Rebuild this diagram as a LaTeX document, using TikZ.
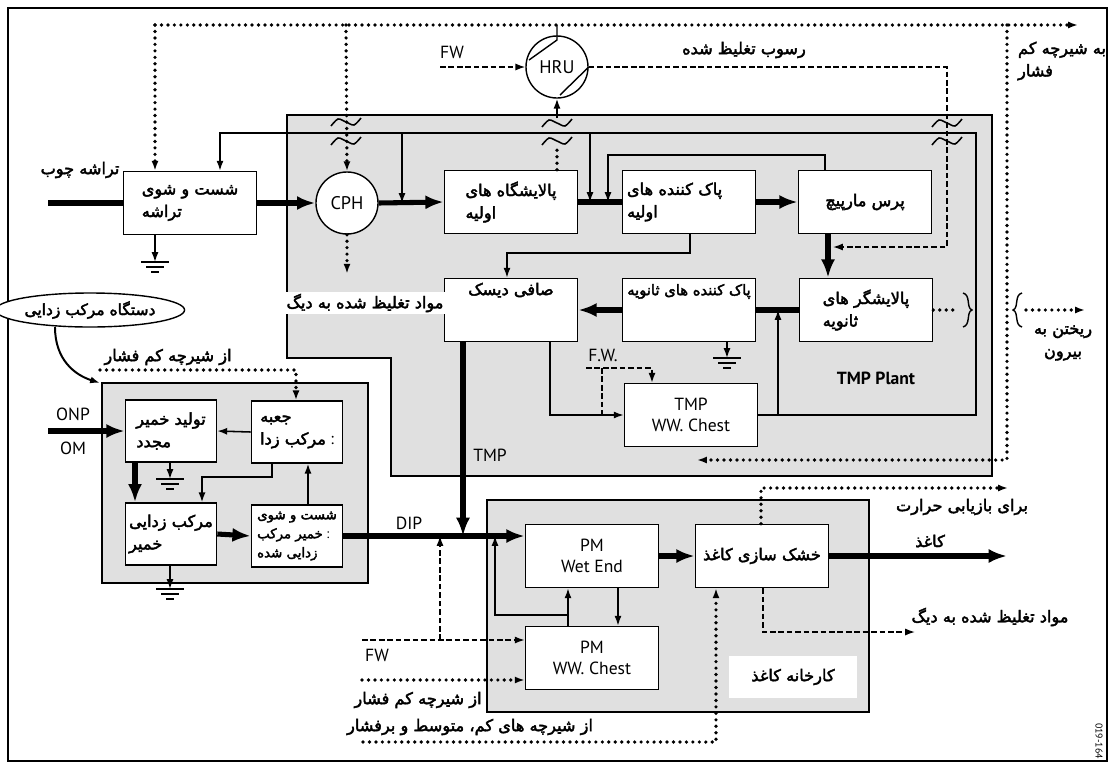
\documentclass[tikz,border=0pt]{standalone}
\usepackage{fontspec}
\setmainfont{PT Sans}
\newfontfamily\arabicfont[Script=Arabic,FakeBold=2.5]{DejaVu Sans}
\TeXXeTstate=1
\usetikzlibrary{arrows.meta, calc, positioning, shapes.geometric}
\newcommand{\fa}[1]{{\arabicfont\beginR #1\endR}}
\newcommand{\wavemark}[2]{\draw[line width=1.1pt] plot[smooth] coordinates {(#1-15,#2+4) (#1-8,#2-3) (#1,#2) (#1+8,#2+3) (#1+15,#2-4)};}
\newcommand{\groundmark}[2]{\draw[line width=1pt] (#1-14,#2) -- (#1+14,#2) (#1-9,#2+5) -- (#1+9,#2+5) (#1-4,#2+10) -- (#1+4,#2+10);}

\begin{document}
\begin{tikzpicture}[x=0.025cm, y=-0.025cm,
		box/.style={draw, fill=white, line width=1pt, minimum width=3.33cm, minimum height=1.58cm, inner sep=2pt, align=left, font=\fontsize{11.5}{16}\selectfont},
		sbox/.style={box, minimum width=2.28cm, minimum height=1.55cm},
		latin/.style={font=\fontsize{12.5}{14.5}\selectfont},
		lbl/.style={inner sep=1pt, font=\fontsize{11.5}{16}\selectfont},
		area/.style={draw, fill=black!12, line width=1pt},
		arr/.style={-{Latex[length=7pt,width=5pt]}},
		flow/.style={line width=1.1pt, arr},
		thickline/.style={line width=3.6pt},
		thickarrow/.style={line width=3.6pt, -{Latex[length=13pt,width=10pt]}},
		steam/.style={line width=2.6pt, dash pattern=on 0pt off 4.6pt, line cap=round},
		water/.style={line width=1pt, dash pattern=on 4pt off 2pt}]
	\useasboundingbox (0,0) rectangle (1114,765);
	\fill[white] (0,0) rectangle (1114,765);
	% frame and areas
	\draw[line width=1pt] (8,8) rectangle (1107,761);
	\draw[area] (287,115) -- (992,115) -- (992,476) -- (391,476) -- (391,358) -- (287,358) -- cycle;
	\draw[area] (102,383) rectangle (368,583);
	\draw[area] (487,500) rectangle (869,712);
	% TMP plant
	\node[box] (wash) at (190,203) {\fa{شست و شوی}\\\fa{تراشه}};
	\node[circle, draw, fill=white, line width=1pt, minimum size=1.55cm, font=\fontsize{13}{15}\selectfont] (cph) at (347,203) {CPH};
	\node[box] (ref1) at (511,202) {\fa{پالایشگاه های}\\\fa{اولیه}};
	\node[box, text width=3.1cm] (cl1) at (689,202) {\fa{پاک کننده های}\\\fa{اولیه}};
	\node[box, align=center] (press) at (865,202) {\fa{پرس مارپیچ}};
	\node[box, align=center] (disk) at (511,310) {\fa{صافی دیسک}\\[14pt]~};
	\node[box, align=center, font=\fontsize{10.5}{15}\selectfont] (cl2) at (689,310) {\fa{پاک کننده های ثانویه}\\[14pt]~};
	\node[box] (ref2) at (866,310) {\fa{پالایشگر های}\\\fa{ثانویه}};
	\node[box, align=center, latin] (tmpchest) at (691,415) {TMP\\WW. Chest};
	\node[circle, draw, fill=white, line width=1pt, minimum size=1.55cm, font=\fontsize{13}{15}\selectfont] (hru) at (557,67) {HRU};
	% deinking
	\node[ellipse, draw, fill=white, line width=1pt, minimum width=3.8cm, minimum height=0.85cm, inner sep=1pt, font=\fontsize{11}{15}\selectfont] (dink) at (90,310) {\fa{دستگاه مرکب زدایی}};
	\node[sbox] (repulp) at (171,431) {\fa{تولید خمیر}\\\fa{مجدد}};
	\node[sbox] (dbox) at (297,432) {\fa{جعبه}\\\fa{مرکب زدا} :};
	\node[sbox] (pulp) at (171,534) {\fa{مرکب زدایی}\\\fa{خمیر}};
	\node[sbox, font=\fontsize{9.5}{13.5}\selectfont] (wash2) at (297,536) {\fa{شست و شوی}\\\fa{خمیر مرکب} :\\\fa{زدایی شده}};
	% paper mill
	\node[box, align=center, latin] (wet) at (592,556) {PM\\Wet End};
	\node[box, align=center, latin] (pmchest) at (592,658) {PM\\WW. Chest};
	\node[box, align=center] (dryer) at (762,556) {\fa{خشک سازی کاغذ}};
	\node[lbl, fill=white, minimum width=3.18cm, minimum height=1.03cm] (mill) at (793,677) {\fa{کارخانه کاغذ}};
	% coordinates
	\coordinate (chipsin) at (48,203);
	\coordinate (sL) at (155,25);
	\coordinate (sC) at (346,25);
	\coordinate (sH) at (557,25);
	\coordinate (sR) at (1007,25);
	\coordinate (sOut) at (1078,25);
	\coordinate (tmpret) at (697,460);
	\coordinate (fwtop) at (440,67);
	\coordinate (condin) at (833,247);
	\coordinate (rc1) at (976,415);
	\coordinate (rc2) at (976,133);
	\coordinate (rc3) at (220,133);
	\coordinate (b1) at (402,133);
	\coordinate (b2) at (590,133);
	\coordinate (b3) at (778,415);
	\coordinate (pr) at (825,155);
	\coordinate (pl) at (608,155);
	\coordinate (cd) at (507,253);
	\coordinate (dc) at (550,415);
	\coordinate (fw2) at (586,368);
	\coordinate (fw2b) at (652,368);
	\coordinate (fw2c) at (602,368);
	\coordinate (tmpj) at (463,536);
	\coordinate (g1) at (155,262);
	\coordinate (g2) at (727,358);
	\coordinate (g3) at (170,479);
	\coordinate (g4) at (170,589);
	\coordinate (dl) at (100,370);
	\coordinate (dr) at (296,370);
	\coordinate (onp) at (48,431);
	\coordinate (dp) at (202,477);
	\coordinate (pmj) at (568,615);
	\coordinate (pmr) at (495,615);
	\coordinate (fw3) at (362,640);
	\coordinate (fw3b) at (440,640);
	\coordinate (lp) at (362,680);
	\coordinate (mp) at (363,742);
	\coordinate (mpc) at (716,742);
	\coordinate (hr) at (761,488);
	\coordinate (hrout) at (1008,488);
	\coordinate (paperout) at (1007,556);
	\coordinate (dc2) at (763,632);
	\coordinate (dcout) at (915,632);
	% steam lines
	\draw[steam, arr] (sL) -- (sOut);
	\draw[steam, arr] (sL) -- (sL |- wash.north);
	\draw[steam, arr] (sC) -- (cph.north);
	\draw[steam, arr] (sR) -- (sR |- tmpret) -- (tmpret);
	\draw[steam, arr] (cph.south) -- ++(0,39);
	\draw[steam] (hru |- ref1.north) -- (557,150);
	\draw[flow] (557,118) -- (hru.south);
	\draw[line width=1pt] (sH) -- (557,40) -- (529,60);
	\draw[line width=1pt] (hru.east) -- (560,95);
	\wavemark{346}{122} \wavemark{346}{141}
	\wavemark{557}{123} \wavemark{557}{141}
	\wavemark{947}{123} \wavemark{947}{141}
	% water lines
	\draw[water, arr] (fwtop) -- (hru.west);
	\draw[water, arr] (hru.east) -- (947,67) -- (947,247) -- (condin);
	\draw[water, arr] (fw2) -- (fw2b) -- (fw2b |- tmpchest.north);
	\draw[water] (fw2c) -- (fw2c |- dc);
	% pulp lines
	\draw[thickline] (chipsin) -- (wash.west);
	\draw[thickarrow] (wash.east) -- (cph.west);
	\draw[thickarrow] (cph.east) -- (ref1.west);
	\draw[thickline] (ref1.east) -- (cl1.west);
	\draw[thickarrow] (cl1.east) -- (press.west);
	\draw[thickarrow] ($(press.south)+(-37,0)$) -- ($(ref2.north)+(-38,0)$);
	\draw[thickline] (ref2.west) -- (cl2.east);
	\draw[thickarrow] (cl2.west) -- (disk.east);
	\draw[thickarrow] ($(disk.south)+(-48,0)$) -- (tmpj);
	\draw[flow] (tmpchest.east) -- (rc1) -- (rc2) -- (rc3) -- (rc3 |- wash.north);
	\draw[flow] (b1) -- (b1 |- cph.east);
	\draw[flow] (b2) -- (b2 |- ref1.east);
	\draw[flow] (b3) -- (b3 |- ref2.west);
	\draw[flow] (pr |- press.north) -- (pr) -- (pl) -- (pl |- cl1.west);
	\draw[flow] ($(cl1.south)+(1,0)$) |- (cd) -- (cd |- disk.north);
	\draw[flow] (dc |- disk.south) -- (dc) -- (tmpchest.west);
	\draw[flow] (g1 |- wash.south) -- (g1);
	\draw[flow] (g2 |- cl2.south) -- (g2);
	\groundmark{155}{262}
	\groundmark{727}{358}
	% overflow
	\draw[steam] (ref2.east) -- (958,310);
	\draw[line width=1pt] (963,293) .. controls (971,295) and (966,308) .. (972,310) .. controls (966,312) and (971,325) .. (963,327);
	\draw[line width=1pt] (1022,293) .. controls (1014,295) and (1019,308) .. (1013,310) .. controls (1019,312) and (1014,325) .. (1022,327);
	\draw[steam, arr] (1026,310) -- (1085,310);
	% deinking lines
	\draw[line width=1.4pt, arr] (55,327) .. controls (55,360) and (75,375) .. (100,383);
	\draw[steam, arr] (dl) -- (dr) -- (dr |- dbox.north);
	\draw[thickarrow] (onp) -- (repulp.west);
	\draw[flow] (dbox.west) -- (repulp.east);
	\draw[thickarrow] ($(repulp.south)+(-36,0)$) -- ($(pulp.north)+(-36,0)$);
	\draw[flow] (g3 |- repulp.south) -- (g3);
	\draw[flow] ($(dbox.south)+(-25,0)$) |- (dp) -- (dp |- pulp.north);
	\draw[thickarrow] (pulp.east) -- (wash2.west);
	\draw[flow] ($(wash2.north)+(11,0)$) -- ($(dbox.south)+(11,0)$);
	\draw[flow] (g4 |- pulp.south) -- (g4);
	\groundmark{170}{479}
	\groundmark{170}{589}
	% paper mill lines
	\draw[thickarrow] (wash2.east) -- (wash2.east -| wet.west);
	\draw[flow] ($(pmchest.north)+(-24,0)$) -- ($(wet.south)+(-24,0)$);
	\draw[flow] ($(wet.south)+(26,0)$) -- ($(pmchest.north)+(26,0)$);
	\draw[flow] (pmj) -- (pmr) -- (pmr |- wash2.east);
	\draw[water, arr] (fw3) -- (fw3 -| pmchest.west);
	\draw[water, arr] (fw3b) -- (fw3b |- wash2.east);
	\draw[steam, arr] (lp) -- (lp -| pmchest.west);
	\draw[steam, arr] (mp) -- (mpc) -- (mpc |- dryer.south);
	\draw[thickarrow] (wet.east) -- (dryer.west);
	\draw[steam, arr] (hr |- dryer.north) -- (hr) -- (hrout);
	\draw[thickarrow] (dryer.east) -- (paperout);
	\draw[water, arr] (dc2 |- dryer.south) -- (dc2) -- (dcout);
	% labels
	\node[lbl] (chipslbl) at (80,170) {\fa{تراشه چوب}};
	\node[latin] (fwlbl) at (452,52) {FW};
	\node[lbl] (sludgelbl) at (744,50) {\fa{رسوب تغلیظ شده}};
	\node[lbl, align=left] (lplbl) at (1062,61) {\fa{به شیرچه کم}\\\fa{فشار}};
	\node[lbl, fill=white, minimum width=3.85cm] (cphlbl) at (365,303) {\fa{مواد تغلیظ شده به دیگ}};
	\node[latin] (fw2lbl) at (603,355) {F.W.};
	\node[font=\fontsize{12.5}{14}\selectfont\bfseries] (plantlbl) at (876,378) {TMP Plant};
	\node[lbl, align=center] (outlbl) at (1063,343) {\fa{ریختن به}\\\fa{بیرون}};
	\node[latin] (tmplbl) at (490,455) {TMP};
	\node[lbl] (dlbl) at (168,357) {\fa{از شیرچه کم فشار}};
	\node[latin] (onplbl) at (73,414) {ONP};
	\node[latin] (omlbl) at (73,448) {OM};
	\node[latin] (diplbl) at (409,523) {DIP};
	\node[latin] (fw3lbl) at (377,655) {FW};
	\node[lbl] (lplbl2) at (418,700) {\fa{از شیرچه کم فشار}};
	\node[lbl] (mplbl) at (470,727) {\fa{از شیرچه های کم، متوسط و برفشار}};
	\node[lbl] (hrlbl) at (962,507) {\fa{برای بازیابی حرارت}};
	\node[lbl] (paperlbl) at (930,541) {\fa{کاغذ}};
	\node[lbl] (dclbl) at (990,617) {\fa{مواد تغلیظ شده به دیگ}};
	\node[rotate=-90, font=\fontsize{7}{8}\selectfont] (figno) at (1099,741) {019-164};
\end{tikzpicture}
\end{document}
